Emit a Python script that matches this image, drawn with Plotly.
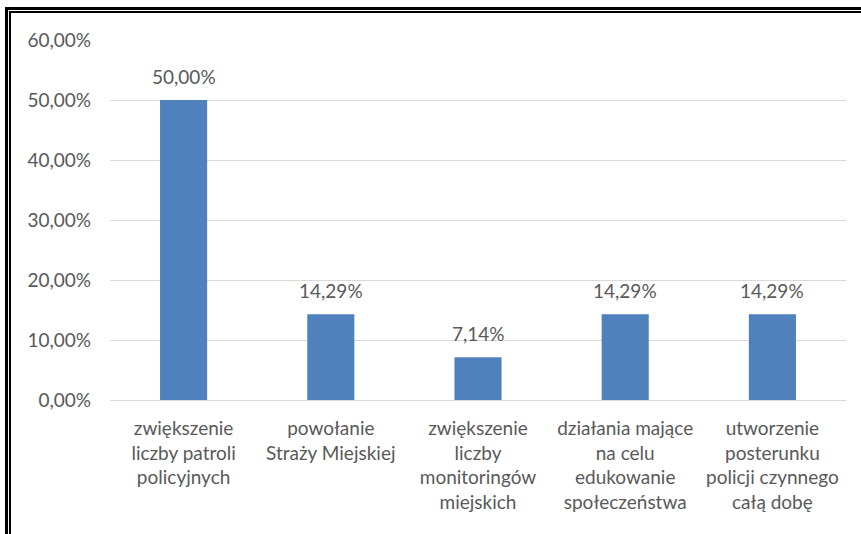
import plotly.graph_objects as go

categories = [
    "zwiększenie<br>liczby patroli<br>policyjnych",
    "powołanie<br>Straży Miejskiej",
    "zwiększenie<br>liczby<br>monitoringów<br>miejskich",
    "działania mające<br>na celu<br>edukowanie<br>społeczeństwa",
    "utworzenie<br>posterunku<br>policji czynnego<br>całą dobę",
]
values = [0.50, 0.1429, 0.0714, 0.1429, 0.1429]
labels = ["50,00%", "14,29%", "7,14%", "14,29%", "14,29%"]

FONT = "Lato"
GREY = "#595959"
FS = 19

fig = go.Figure(go.Bar(x=categories, y=values, marker_color="#4F81BD",
                       marker_line_width=0, hoverinfo="skip"))

for c, v, t in zip(categories, values, labels):
    fig.add_annotation(x=c, y=v, text=t, showarrow=False, yshift=24,
                       font=dict(family=FONT, size=FS, color=GREY))

# double border (Excel-like frame)
fig.add_shape(type="path", xref="paper", yref="paper",
              path="M 1.2,1.0875 L -0.1406,1.0875 L -0.1406,-0.5",
              line=dict(color="black", width=3))
fig.add_shape(type="path", xref="paper", yref="paper",
              path="M 1.2,1.0778 L -0.1359,1.0778 L -0.1359,-0.5",
              line=dict(color="black", width=2))

fig.update_layout(
    width=861, height=534,
    margin=dict(l=110, r=15, t=40, b=134),
    paper_bgcolor="white", plot_bgcolor="white",
    separators=",.",
    bargap=0.68,
    showlegend=False,
    font=dict(family=FONT, size=FS, color=GREY),
    xaxis=dict(showgrid=False, showline=True, linecolor="#D9D9D9", linewidth=1,
               ticks="", tickangle=0, ticklabelstandoff=11,
               tickfont=dict(family=FONT, size=FS, color=GREY)),
    yaxis=dict(range=[0, 0.6], dtick=0.1, tickformat=".2%",
               showgrid=True, gridcolor="#D9D9D9", gridwidth=1,
               zeroline=False, showline=False, ticks="",
               ticklabelstandoff=18,
               tickfont=dict(family=FONT, size=FS, color=GREY)),
)

fig.write_html("out.html", config={"displayModeBar": False},
               post_script="document.body.style.margin='0';")
